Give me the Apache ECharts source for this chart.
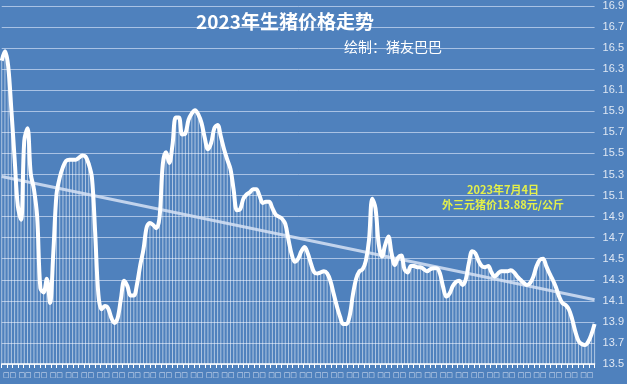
<!DOCTYPE html>
<html><head><meta charset="utf-8">
<script src="https://cdn.jsdelivr.net/npm/echarts@6/dist/echarts.min.js"></script>
<style>html,body{margin:0;padding:0;background:#4f81bd}#c{width:627px;height:384px}</style>
</head><body><div id="c"></div>
<script>
// 2023 daily pig prices (元/公斤)
const jan = [16.38,16.47,16.33,15.91,15.45,15.00,14.87,15.62,15.74,15.31,15.16,14.90,14.22,14.18,14.31,14.08,14.55,15.11,15.27,15.37,15.43,15.44,15.44,15.44,15.46,15.48,15.47,15.40,15.27,14.75,14.16];
const feb = [14.02,14.05,14.03,13.94,13.89,13.94,14.12,14.29,14.24,14.15,14.15,14.26,14.44,14.59,14.80,14.84,14.82,14.79,14.90,15.40,15.51,15.41,15.58,15.84,15.84,15.68,15.69,15.82];
const mar = [15.88,15.91,15.87,15.79,15.65,15.54,15.60,15.74,15.77,15.66,15.54,15.44,15.35,15.15,14.96,14.97,15.07,15.11,15.13,15.16,15.16,15.10,15.03,15.04,15.04,14.98,14.92,14.90,14.88,14.83,14.68];
const apr = [14.54,14.47,14.50,14.57,14.61,14.55,14.45,14.37,14.36,14.37,14.38,14.36,14.29,14.17,14.05,13.95,13.88,13.88,13.96,14.16,14.31,14.38,14.40,14.48,14.68,15.07,14.98,14.64,14.52,14.63];
const may = [14.71,14.55,14.44,14.51,14.53,14.40,14.37,14.43,14.43,14.42,14.42,14.40,14.38,14.40,14.41,14.41,14.36,14.23,14.14,14.17,14.24,14.28,14.29,14.25,14.30,14.46,14.57,14.55,14.48,14.43,14.42];
const jun = [14.43,14.37,14.33,14.36,14.38,14.38,14.38,14.39,14.37,14.33,14.30,14.27,14.25,14.27,14.33,14.43,14.49,14.50,14.43,14.36,14.30,14.23,14.14,14.08,14.06,14.02,13.93,13.81,13.72,13.69];
const jul = [13.68,13.71,13.78,13.88];
const monthDays = [31,28,31,30,31,30,4];
// linear trend line end values
const trendStart = 15.28, trendEnd = 14.11;
// x-axis tick labels (rendered as missing-glyph boxes in the reference)
const tickLabels = Array(38).fill('□□');
const tickMarks = Array(108).fill('');

const prices = [].concat(jan, feb, mar, apr, may, jun, jul);
const days = [];
monthDays.forEach((n, m) => { for (let d = 1; d <= n; d++) days.push((m + 1) + '月' + d + '日'); });

const chart = echarts.init(document.getElementById('c'), null, {renderer: 'canvas'});
chart.setOption({
  backgroundColor: '#4f81bd',
  animation: false,
  grid: {left: 0, right: 27, top: 6, bottom: 20, containLabel: false},
  xAxis: [
    {type: 'category', data: days, boundaryGap: false, show: false},
    {type: 'category', data: tickMarks, boundaryGap: true, position: 'bottom',
     axisLine: {show: true, lineStyle: {color: '#ffffff', width: 1.5}},
     axisTick: {show: true, interval: 0, length: 4, lineStyle: {color: '#ffffff', width: 1}},
     axisLabel: {show: false}, splitLine: {show: false}},
    {type: 'category', data: tickLabels, boundaryGap: true, position: 'bottom',
     axisLine: {show: false}, axisTick: {show: false}, splitLine: {show: false},
     axisLabel: {show: true, interval: 0, color: '#d9e3f2', fontSize: 7, margin: 8, fontFamily: 'DejaVu Sans'}}
  ],
  yAxis: {
    type: 'value', position: 'right', min: 13.5, max: 16.9, interval: 0.1,
    axisLine: {show: false}, axisTick: {show: false},
    axisLabel: {color: '#dfe7f3', fontSize: 11, margin: 8, fontFamily: 'Liberation Sans',
      formatter: v => (Math.round(v * 10) % 2 === 1) ? v.toFixed(1) : ''},
    splitLine: {show: true, lineStyle: {color: ['#a9c2e4', 'rgba(0,0,0,0)'], width: 1}}
  },
  series: [
    {type: 'bar', xAxisIndex: 0, data: prices, barWidth: 1, silent: true,
     itemStyle: {color: 'rgba(255,255,255,0.55)'}, z: 2},
    {type: 'line', xAxisIndex: 0, data: [[0, trendStart], [prices.length - 1, trendEnd]],
     symbol: 'none', silent: true, lineStyle: {color: 'rgba(214,226,244,0.85)', width: 3}, z: 3},
    {type: 'line', xAxisIndex: 0, data: prices, smooth: 0.35, symbol: 'none', silent: true,
     lineStyle: {color: '#ffffff', width: 4}, z: 4}
  ],
  graphic: [
    {type: 'text', x: 285, y: 22, z: 10, style: {text: '2023年生猪价格走势', fill: '#ffffff',
      font: 'bold 19px "Noto Sans CJK SC"', textAlign: 'center', textVerticalAlign: 'middle'}},
    {type: 'text', x: 393, y: 47, z: 10, style: {text: '绘制：猪友巴巴', fill: '#ffffff',
      font: '14px "Noto Sans CJK SC"', textAlign: 'center', textVerticalAlign: 'middle'}},
    {type: 'text', x: 503, y: 190, z: 10, style: {text: '2023年7月4日', fill: '#e4f04a',
      font: 'bold 11px "Noto Sans CJK SC"', textAlign: 'center', textVerticalAlign: 'middle'}},
    {type: 'text', x: 503, y: 205, z: 10, style: {text: '外三元猪价13.88元/公斤', fill: '#e4f04a',
      font: 'bold 11px "Noto Sans CJK SC"', textAlign: 'center', textVerticalAlign: 'middle'}}
  ]
});
</script></body></html>
